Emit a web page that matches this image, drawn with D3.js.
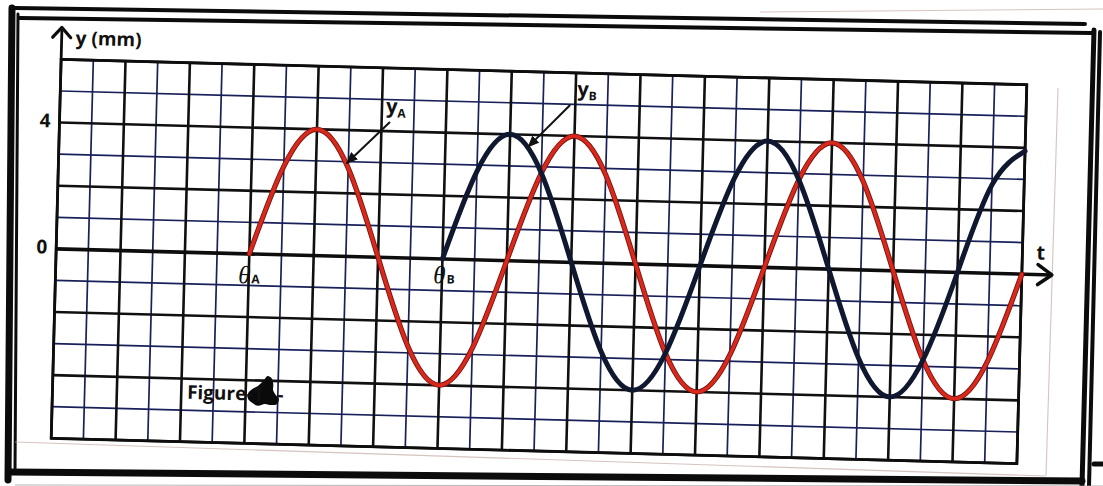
<!DOCTYPE html>
<html>
<head>
<meta charset="utf-8">
<script src="https://cdn.jsdelivr.net/npm/d3@7"></script>
<style>
  html, body { margin: 0; padding: 0; background: #fff; }
  svg { display: block; }
</style>
</head>
<body>
<svg id="chart" width="1103" height="486"></svg>
<script>
// Time runs over 30 grid columns, displacement over 12 grid rows (1 mm per row)
const tDomain = [0, 30];
const yDomain = [-6, 6];
const yTickValues = [4, 0];
const yTickLabels = ["4", "0"];

// Wave A (red), one sample per grid column, starting at θA
const timesA = [6, 7, 8, 9, 10, 11, 12, 13, 14, 15, 16, 17, 18, 19, 20, 21, 22, 23, 24, 25, 26, 27, 28, 29, 30];
const valuesA = [0, 2.8, 4, 2.8, 0, -2.8, -4, -2.8, 0, 2.8, 4, 2.8, 0, -2.8, -4, -2.8, 0, 2.8, 4, 2.8, 0, -2.8, -4, -2.8, 0];

// Wave B (dark blue), one sample per grid column, starting at θB
const timesB = [12, 13, 14, 15, 16, 17, 18, 19, 20, 21, 22, 23, 24, 25, 26, 27, 28, 29, 30];
const valuesB = [0, 2.8, 4, 2.8, 0, -2.8, -4, -2.8, 0, 2.8, 4, 2.8, 0, -2.8, -4, -2.8, 0, 2.8, 3.9];

// Curve labels and their pointer arrows (tip on the curve, tail near the text)
const waveLabels = [
  { name: "y", sub: "A", text: [10.13, 4.57], tail: [10.26, 4.29], tip: [8.95, 2.95] },
  { name: "y", sub: "B", text: [16.05, 5.27], tail: [15.84, 4.98], tip: [14.57, 3.62] }
];
// Start-phase markers on the time axis
const phaseLabels = [
  { sub: "A", at: [5.67, -0.93] },
  { sub: "B", at: [11.73, -0.77] }
];
const figureCaption = { at: [4.18, -4.64], main: "Figure", num: "-1", tail: "-" };

const svg = d3.select("#chart");
const W = 1103, H = 486;
svg.append("rect").attr("width", W).attr("height", H).attr("fill", "#fff");

// ---- sheet frame (hand-ruled double border) ----
const frame = svg.append("g").attr("fill", "none").attr("stroke", "#0b0b0b").attr("stroke-linecap", "round");
frame.append("line").attr("x1", 15).attr("y1", 8).attr("x2", 1085).attr("y2", 24).attr("stroke-width", 4);
frame.append("line").attr("x1", 20).attr("y1", 18).attr("x2", 1092).attr("y2", 33).attr("stroke-width", 4);
frame.append("line").attr("x1", 12).attr("y1", 8).attr("x2", 8).attr("y2", 480).attr("stroke-width", 7);
frame.append("line").attr("x1", 18).attr("y1", 14).attr("x2", 15).attr("y2", 472).attr("stroke-width", 3);
frame.append("line").attr("x1", 1094).attr("y1", 30).attr("x2", 1082).attr("y2", 486).attr("stroke-width", 5);
frame.append("line").attr("x1", 1100).attr("y1", 32).attr("x2", 1089).attr("y2", 486).attr("stroke-width", 4);
frame.append("line").attr("x1", 10).attr("y1", 472).attr("x2", 1082).attr("y2", 481).attr("stroke-width", 7);
frame.append("line").attr("x1", 1094).attr("y1", 464).attr("x2", 1103).attr("y2", 464).attr("stroke-width", 5);
// paper edges
const edge = svg.append("g").attr("fill", "none").attr("stroke", "#c4aca6").attr("stroke-width", 1.1).attr("opacity", 0.7);
edge.append("line").attr("x1", 15).attr("y1", 442).attr("x2", 1045).attr("y2", 476);
edge.append("line").attr("x1", 1058).attr("y1", 88).attr("x2", 1046).attr("y2", 476);
edge.append("line").attr("x1", 760).attr("y1", 12).attr("x2", 1103).attr("y2", 9);
edge.append("line").attr("x1", 15).attr("y1", 485).attr("x2", 1103).attr("y2", 486).attr("stroke", "#999");

// ---- plot area ----
const x = d3.scaleLinear().domain(tDomain).range([56, 1022]);
const y = d3.scaleLinear().domain(yDomain).range([451, 72]);
const g = svg.append("g").attr("transform", "rotate(1.5, 539, 261.5)");

const cols = d3.range(tDomain[0], tDomain[1] + 1);
const rows = d3.range(yDomain[0], yDomain[1] + 1);
const isMajor = v => Math.abs(v) % 2 === 0;

// minor (odd) grid lines in dark navy, major (even) in black
const grid = g.append("g").attr("fill", "none");
grid.selectAll("line.vmin").data(cols.filter(c => !isMajor(c))).join("line").attr("class", "vmin")
  .attr("x1", d => x(d)).attr("x2", d => x(d)).attr("y1", y(yDomain[1])).attr("y2", y(yDomain[0]))
  .attr("stroke", "#18205a").attr("stroke-width", 1.7);
grid.selectAll("line.hmin").data(rows.filter(r => !isMajor(r))).join("line").attr("class", "hmin")
  .attr("y1", d => y(d)).attr("y2", d => y(d)).attr("x1", x(tDomain[0])).attr("x2", x(tDomain[1]))
  .attr("stroke", "#18205a").attr("stroke-width", 1.7);
grid.selectAll("line.vmaj").data(cols.filter(c => isMajor(c))).join("line").attr("class", "vmaj")
  .attr("x1", d => x(d)).attr("x2", d => x(d)).attr("y1", y(yDomain[1])).attr("y2", y(yDomain[0]))
  .attr("stroke", "#101010").attr("stroke-width", 2.6);
grid.selectAll("line.hmaj").data(rows.filter(r => isMajor(r) && r !== 0)).join("line").attr("class", "hmaj")
  .attr("y1", d => y(d)).attr("y2", d => y(d)).attr("x1", x(tDomain[0])).attr("x2", x(tDomain[1]))
  .attr("stroke", "#101010").attr("stroke-width", 2.6);
grid.append("rect")
  .attr("x", x(tDomain[0])).attr("y", y(yDomain[1]))
  .attr("width", x(tDomain[1]) - x(tDomain[0])).attr("height", y(yDomain[0]) - y(yDomain[1]))
  .attr("stroke", "#0d0d0d").attr("stroke-width", 2.8);

// time axis along y = 0, with open arrow head
const tEnd = x(tDomain[1]) + 30;
g.append("line").attr("x1", x(tDomain[0])).attr("x2", tEnd).attr("y1", y(0)).attr("y2", y(0))
  .attr("stroke", "#0d0d0d").attr("stroke-width", 3.6);
g.append("path")
  .attr("d", `M${tEnd - 14},${y(0) - 10} L${tEnd},${y(0)} L${tEnd - 14},${y(0) + 10}`)
  .attr("fill", "none").attr("stroke", "#0d0d0d").attr("stroke-width", 3.6)
  .attr("stroke-linecap", "round").attr("stroke-linejoin", "round");
g.append("text").attr("x", tEnd - 16).attr("y", y(0) - 15)
  .attr("font-family", "Open Sans, sans-serif").attr("font-weight", 700).attr("font-size", 20)
  .attr("fill", "#111").text("t");

// displacement axis arrow up the left edge
const yTop = y(yDomain[1]) - 32;
g.append("line").attr("x1", x(tDomain[0])).attr("x2", x(tDomain[0])).attr("y1", y(yDomain[1])).attr("y2", yTop)
  .attr("stroke", "#0d0d0d").attr("stroke-width", 2.8);
g.append("path")
  .attr("d", `M${x(tDomain[0]) - 9},${yTop + 10} L${x(tDomain[0])},${yTop} L${x(tDomain[0]) + 9},${yTop + 10}`)
  .attr("fill", "none").attr("stroke", "#0d0d0d").attr("stroke-width", 3.2)
  .attr("stroke-linecap", "round").attr("stroke-linejoin", "round");
g.append("text").attr("x", x(tDomain[0]) + 14).attr("y", y(yDomain[1]) - 15)
  .attr("font-family", "Open Sans, sans-serif").attr("font-weight", 700).attr("font-size", 19)
  .attr("fill", "#111").text("y (mm)");

// value labels on the displacement axis
g.selectAll("text.ytick").data(yTickValues).join("text").attr("class", "ytick")
  .attr("x", x(tDomain[0]) - 9).attr("y", d => y(d) + 5)
  .attr("text-anchor", "end")
  .attr("font-family", "Open Sans, sans-serif").attr("font-weight", 700).attr("font-size", 19)
  .attr("fill", "#111").text((d, i) => yTickLabels[i]);

// ---- waves ----
const line = d3.line().x(d => x(d[0])).y(d => y(d[1])).curve(d3.curveNatural);
const seriesA = timesA.map((t, i) => [t, valuesA[i]]);
const seriesB = timesB.map((t, i) => [t, valuesB[i]]);

g.append("path").datum(seriesA).attr("d", line)
  .attr("fill", "none").attr("stroke", "#7a1410").attr("stroke-width", 5.2).attr("stroke-linecap", "round");
g.append("path").datum(seriesA).attr("d", line)
  .attr("fill", "none").attr("stroke", "#d8291c").attr("stroke-width", 3.4).attr("stroke-linecap", "round");
g.append("path").datum(seriesB).attr("d", line)
  .attr("fill", "none").attr("stroke", "#101830").attr("stroke-width", 5).attr("stroke-linecap", "round");

// ---- annotations ----
const defs = svg.append("defs");
defs.append("marker").attr("id", "head").attr("viewBox", "0 0 12 10")
  .attr("refX", 11).attr("refY", 5).attr("markerWidth", 12).attr("markerHeight", 10)
  .attr("markerUnits", "userSpaceOnUse").attr("orient", "auto")
  .append("path").attr("d", "M0,0 L12,5 L0,10 Z").attr("fill", "#111");

waveLabels.forEach(l => {
  g.append("line")
    .attr("x1", x(l.tail[0])).attr("y1", y(l.tail[1]))
    .attr("x2", x(l.tip[0])).attr("y2", y(l.tip[1]))
    .attr("stroke", "#111").attr("stroke-width", 2).attr("marker-end", "url(#head)");
  const t = g.append("text").attr("x", x(l.text[0])).attr("y", y(l.text[1]))
    .attr("font-family", "Open Sans, sans-serif").attr("font-weight", 700).attr("font-size", 20)
    .attr("fill", "#111");
  t.append("tspan").text(l.name);
  t.append("tspan").attr("dy", 4).attr("font-size", 12).text(l.sub);
});

phaseLabels.forEach(p => {
  const t = g.append("text").attr("x", x(p.at[0])).attr("y", y(p.at[1]))
    .attr("fill", "#111");
  t.append("tspan").attr("font-family", "Liberation Serif, serif").attr("font-style", "italic")
    .attr("font-size", 25).text("θ");
  t.append("tspan").attr("font-family", "Open Sans, sans-serif").attr("font-weight", 700)
    .attr("font-size", 12).attr("dx", 1).text(p.sub);
});

// figure caption with an ink blot over the number
const cx = x(figureCaption.at[0]), cy = y(figureCaption.at[1]);
const blot = [[61,-7],[66,-12],[71,-15],[76,-20],[80,-25],[84,-23],[86,-17],[86,-11],[89,-6],[92,-2],[90,3],[84,4],[78,3],[71,5],[65,2],[61,-2]];
g.append("path")
  .attr("d", d3.line().x(p => cx + p[0]).y(p => cy + p[1]).curve(d3.curveCatmullRomClosed)(blot))
  .attr("fill", "#0a0a0a");
const cap = g.append("text").attr("x", cx).attr("y", cy)
  .attr("font-family", "Open Sans, sans-serif").attr("font-weight", 700).attr("font-size", 19)
  .attr("fill", "#111");
cap.append("tspan").text(figureCaption.main);
cap.append("tspan").text(figureCaption.num);
cap.append("tspan").attr("dx", 14).text(figureCaption.tail);
</script>
</body>
</html>
